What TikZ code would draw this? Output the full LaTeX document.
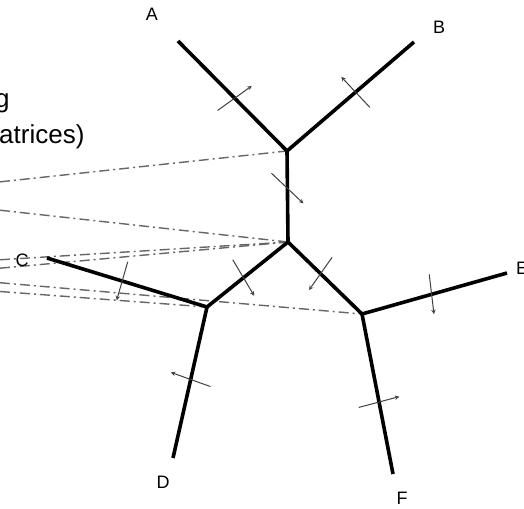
\documentclass[tikz,border=0pt]{standalone}
\usepackage{fontspec}
\setmainfont{Liberation Sans}
\usetikzlibrary{calc}

\begin{document}
\begin{tikzpicture}[>=stealth, x=1pt, y=-1pt,
  branch/.style={line width=3.6pt, line join=miter},
  flux/.style={->, line width=1pt, draw=black!75},
  link/.style={line width=1.4pt, draw=black!60, dash pattern=on 10pt off 4pt on 2pt off 4pt},
  leaf/.style={font=\fontsize{18}{20}\selectfont, inner sep=0pt}]
  \fill[white] (0,0) rectangle (524,508);
  \path[use as bounding box, clip] (0,0) rectangle (524,508);
  % tips and inner nodes
  \coordinate (A) at (178,41);
  \coordinate (B) at (414,42);
  \coordinate (C) at (47,258);
  \coordinate (D) at (173,458);
  \coordinate (E) at (507,273);
  \coordinate (F) at (393,474);
  \coordinate (T) at (287,151);
  \coordinate (M) at (288,242);
  \coordinate (L) at (207,307);
  \coordinate (R) at (362,314);
  % note (cut at the left edge)
  \node[anchor=base west, inner sep=0pt, font=\fontsize{26}{30}\selectfont] (note1) at (-5,107) {g};
  \node[anchor=base west, inner sep=0pt, font=\fontsize{26}{30}\selectfont] (note2) at (-1,143) {atrices)};
  % dash-dot links to the inner nodes
  \coordinate (s1) at (-20,184);
  \coordinate (s2) at (-20,208);
  \coordinate (s3) at (-20,261);
  \coordinate (s4) at (-20,270);
  \coordinate (s5) at (-20,281);
  \coordinate (s6) at (-20,290);
  \draw[link] (s1) -- (T);
  \draw[link] (s2) -- (M);
  \draw[link] (s3) -- (M);
  \draw[link] (s4) -- (M);
  \draw[link] (s5) -- (R);
  \draw[link] (s6) -- (L);
  % tree
  \draw[branch] (A) -- (T) -- (B);
  \draw[branch] (T) -- (M);
  \draw[branch] (L) -- (M) -- (R);
  \draw[branch] (C) -- (L) -- (D);
  \draw[branch] (E) -- (R) -- (F);
  % arrows across the branches
  \draw[flux] ($(A)!.52!(T)!21pt!261:(T)$) -- ($(A)!.52!(T)!21pt!81:(T)$);
  \draw[flux] ($(B)!.46!(T)!21pt!92.5:(T)$) -- ($(B)!.46!(T)!21pt!-87.5:(T)$);
  \draw[flux] ($(T)!.41!(M)!22pt!226:(M)$) -- ($(T)!.41!(M)!22pt!46:(M)$);
  \draw[flux] ($(M)!.55!(L)!21pt!262:(L)$) -- ($(M)!.55!(L)!21pt!82:(L)$);
  \draw[flux] ($(M)!.44!(R)!20pt!99:(R)$) -- ($(M)!.44!(R)!20pt!-81:(R)$);
  \draw[flux] ($(C)!.47!(L)!20pt!91:(L)$) -- ($(C)!.47!(L)!20pt!-89:(L)$);
  \draw[flux] ($(R)!.48!(E)!20pt!81:(E)$) -- ($(R)!.48!(E)!20pt!-99:(E)$);
  \draw[flux] ($(L)!.48!(D)!21pt!83:(D)$) -- ($(L)!.48!(D)!21pt!-97:(D)$);
  \draw[flux] ($(R)!.55!(F)!21pt!274:(F)$) -- ($(R)!.55!(F)!21pt!94:(F)$);
  % labels
  \node[leaf] (la) at (152,14) {A};
  \node[leaf] (lb) at (439,27) {B};
  \node[leaf] (lc) at (22,260) {C};
  \node[leaf] (ld) at (163,482) {D};
  \node[leaf, anchor=west] (le) at (516,268) {E};
  \node[leaf] (lf) at (402,498) {F};
\end{tikzpicture}
\end{document}
